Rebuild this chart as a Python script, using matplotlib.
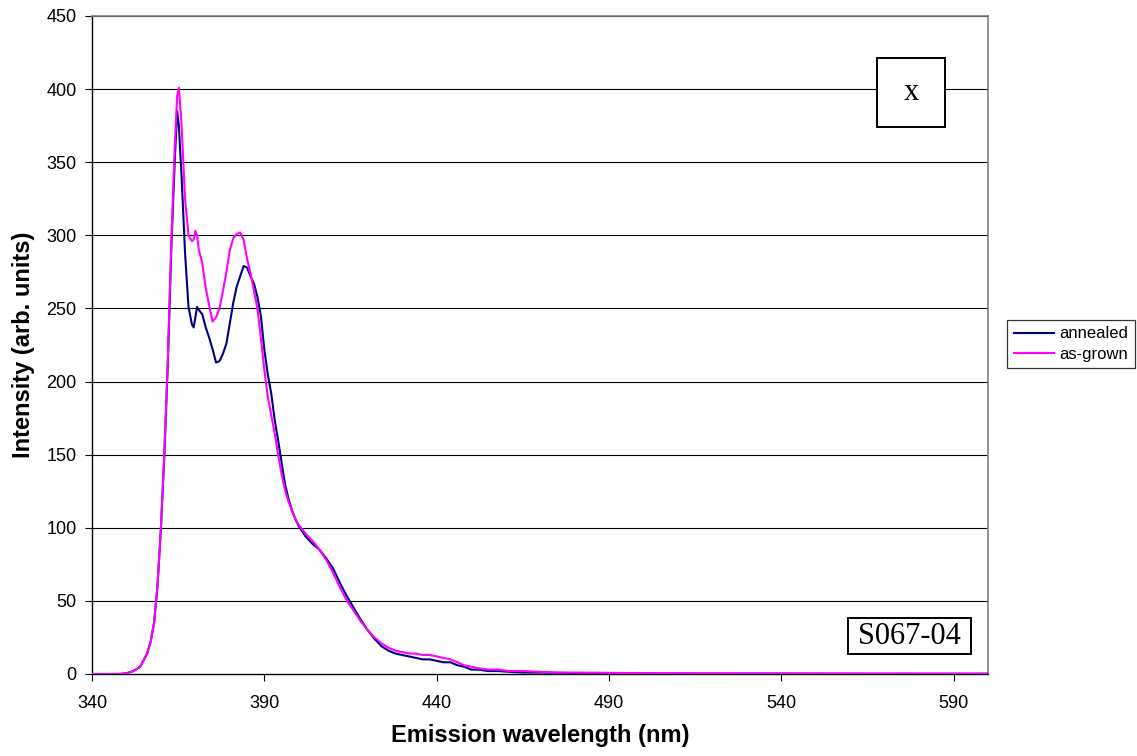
import matplotlib
matplotlib.use("Agg")
import matplotlib.pyplot as plt
from matplotlib.patches import Rectangle

# Emission wavelength (nm)
wavelength = [340, 345, 348, 350, 352, 354, 356, 357, 358, 359, 360, 361, 362, 363, 364,
              364.7, 365.2, 366, 367, 368, 369, 369.5, 370, 370.5, 371, 372, 373, 374, 375,
              376, 377, 378, 379, 380, 381, 382, 383, 384, 385, 386, 387, 388, 389, 390,
              391, 392, 393, 394, 395, 396, 397, 398, 399, 400, 402, 404, 406, 408, 410,
              412, 414, 416, 418, 420, 422, 424, 426, 428, 430, 432, 434, 436, 438, 440,
              442, 444, 446, 448, 450, 452, 455, 458, 461, 465, 470, 475, 480, 490, 500,
              520, 540, 560, 580, 600]

annealed = [0, 0, 0, 0.5, 2, 5, 14, 22, 35, 60, 100, 150, 212, 290, 350,
            385, 375, 340, 288, 251, 239, 237, 244, 251, 249, 246, 237, 230, 222,
            213, 214, 219, 226, 240, 254, 265, 272, 279, 278, 272, 267, 258, 245, 222,
            205, 192, 174, 160, 145, 130, 120, 112, 106, 101, 94, 89, 85, 79, 72,
            62, 53, 45, 37, 30, 24, 19, 16, 14, 13, 12, 11, 10, 10, 9,
            8, 8, 6, 5, 3, 3, 2, 2, 1.5, 1, 1, 0.8, 0.6, 0.5, 0.4,
            0.3, 0.3, 0.2, 0.2, 0.2]

as_grown = [0, 0, 0, 0.5, 2, 5, 14, 22, 35, 60, 100, 152, 215, 295, 360,
            395, 401, 375, 325, 300, 296, 297, 303, 300, 290, 281, 264, 252, 241,
            244, 250, 262, 275, 290, 298, 301, 302, 297, 284, 274, 262, 250, 230, 208,
            190, 177, 165, 150, 137, 126, 118, 112, 106, 102, 96, 91, 85, 78, 69,
            59, 50, 43, 36, 30, 25, 21, 18, 16, 15, 14, 14, 13, 13, 12,
            11, 10, 8, 6, 5, 4, 3, 3, 2, 2, 1.5, 1, 1, 0.8, 0.5,
            0.4, 0.3, 0.3, 0.2, 0.2]

x_ticks = [340, 390, 440, 490, 540, 590]
y_ticks = [0, 50, 100, 150, 200, 250, 300, 350, 400, 450]

W, H = 1137, 756
fig = plt.figure(figsize=(W / 100, H / 100), dpi=100)
plt.rcParams['font.family'] = ['Liberation Sans', 'DejaVu Sans']

L, R, T, B = 92, 988, 16, 674
ax = fig.add_axes([L / W, 1 - B / H, (R - L) / W, (B - T) / H])

for yv in y_ticks[1:]:
    ax.axhline(yv, color='black', lw=0.8, zorder=1)

ax.plot(wavelength, annealed, color='#000080', lw=1.5, label='annealed', zorder=3)
ax.plot(wavelength, as_grown, color='#FF00FF', lw=1.5, label='as-grown', zorder=4)

ax.set_xlim(340, 600)
ax.set_ylim(0, 450)
ax.set_xticks(x_ticks)
ax.set_yticks(y_ticks)
ax.tick_params(axis='both', direction='out', length=5, width=0.8, labelsize=13, colors='black')
ax.tick_params(axis='x', pad=10)
ax.tick_params(axis='y', pad=6)

for s in ['left', 'bottom']:
    ax.spines[s].set_color('black')
    ax.spines[s].set_linewidth(1.0)
for s in ['right', 'top']:
    ax.spines[s].set_color('#808080')
    ax.spines[s].set_linewidth(1.2)

ax.set_xlabel('Emission wavelength (nm)', fontsize=17, fontweight='bold', labelpad=9)
ax.set_ylabel('Intensity (arb. units)', fontsize=17, fontweight='bold', labelpad=8)

leg = fig.legend(loc='center', bbox_to_anchor=(1071 / W, 1 - 344 / H), fontsize=12,
                 frameon=True, fancybox=False, edgecolor='black', handlelength=2.4,
                 handletextpad=0.3, borderpad=0.4, labelspacing=0.3)
leg.get_frame().set_linewidth(0.9)


def box(x0, y0, x1, y1, text, size):
    fig.add_artist(Rectangle((x0 / W, 1 - y1 / H), (x1 - x0) / W, (y1 - y0) / H,
                             transform=fig.transFigure, fill=True, facecolor='white',
                             edgecolor='black', lw=1.4, zorder=5))
    fig.text((x0 + x1) / 2 / W, 1 - (y0 + y1) / 2 / H, text, ha='center', va='center',
             fontsize=size, family=['Liberation Serif', 'DejaVu Serif'], zorder=6)


box(877, 58, 945, 127, 'x', 22)
box(848, 618, 971, 654, 'S067-04', 22)

fig.savefig('out.png', dpi=100)
